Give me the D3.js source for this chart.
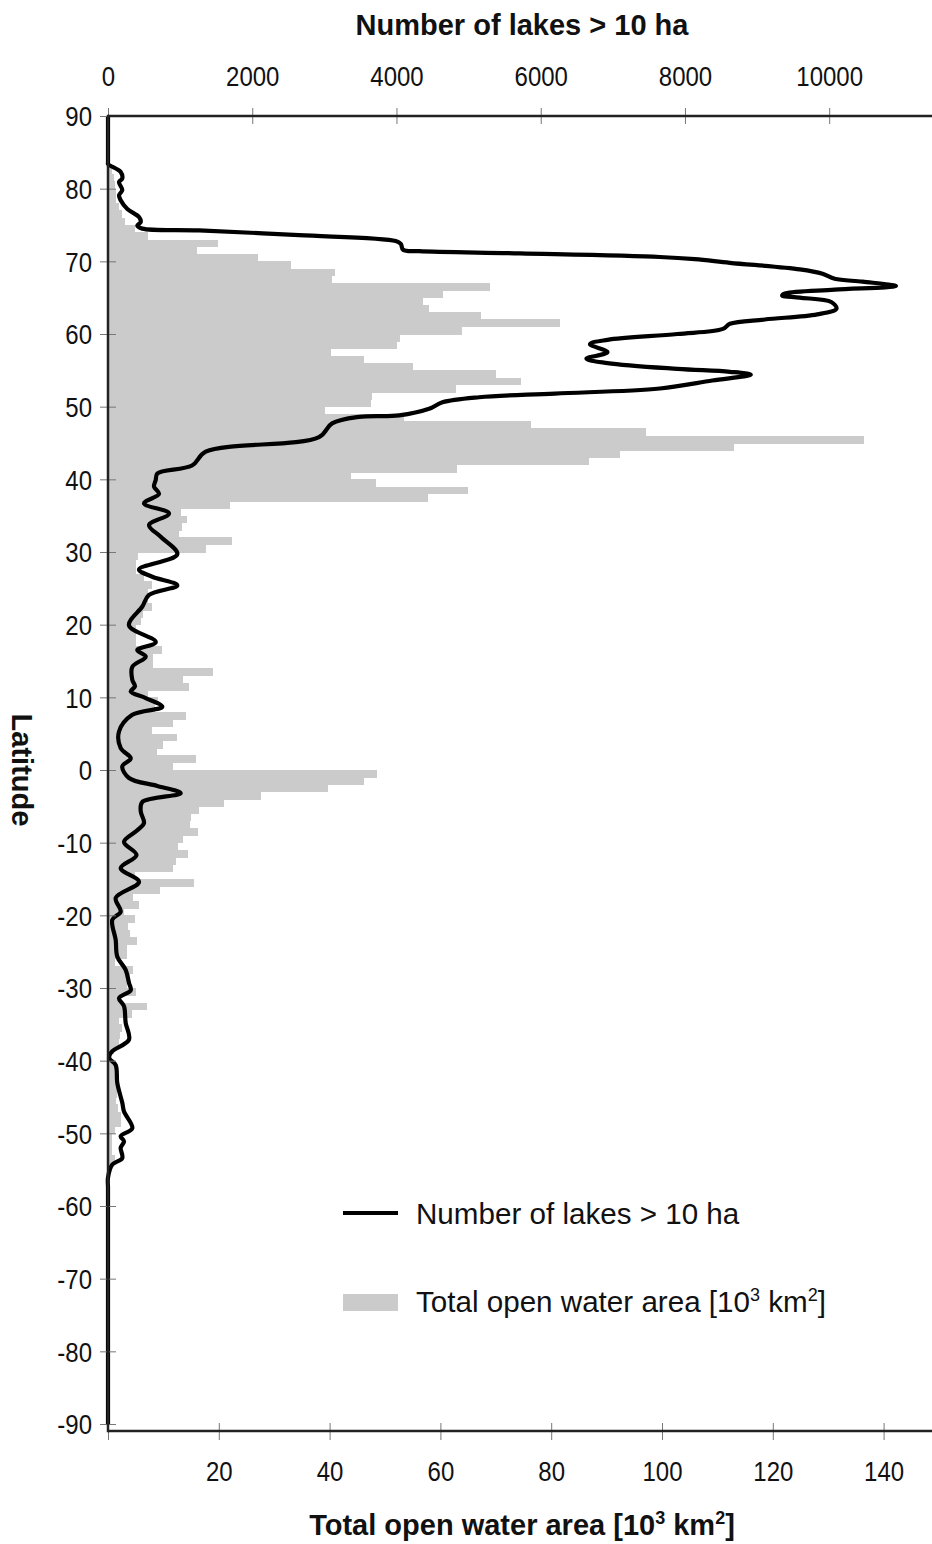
<!DOCTYPE html>
<html>
<head>
<meta charset="utf-8">
<script src="https://cdn.jsdelivr.net/npm/d3@7/dist/d3.min.js"></script>
<style>
  html, body { margin: 0; padding: 0; background: #fff; }
  svg { display: block; }
</style>
</head>
<body>
<svg id="chart" width="932" height="1544"></svg>
<script>
// ---------- DATA ----------
// Latitude bands (lower bound of 1-degree band)
const bandLat = [
  83,82,81,80,79,78,77,76,75,74,73,72,71,70,69,68,67,66,65,64,63,62,61,60,59,58,57,56,55,54,53,52,51,50,
  49,48,47,46,45,44,43,42,41,40,39,38,37,36,35,34,33,32,31,30,29,28,27,26,25,24,23,22,21,20,
  19,18,17,16,15,14,13,12,11,10,9,8,7,6,5,4,3,2,1,0,
  -1,-2,-3,-4,-5,-6,-7,-8,-9,-10,-11,-12,-13,-14,-15,-16,-17,-18,-19,-20,
  -21,-22,-23,-24,-25,-26,-27,-28,-29,-30,-31,-32,-33,-34,-35,-36,-37,-38,-39,-40,
  -41,-42,-43,-44,-45,-46,-47,-48,-49,-50,-51,-52,-53,-54,-55
];
// Total open water area [10^3 km^2] per band
const bandArea = [
  0.4,0.8,1.0,1.2,1.5,1.5,2.0,2.5,3.0,4.9,7.2,19.8,16.0,27.0,33.0,41.0,40.5,69.0,60.4,56.9,58.0,67.3,81.5,63.9,52.7,52.2,40.2,46.2,55.1,70.0,74.5,62.8,47.6,47.4,
  39.2,53.4,76.3,97.1,136.5,113.0,92.5,86.9,63.0,43.9,48.3,65.0,57.8,22.0,13.2,14.2,13.3,12.8,22.3,17.6,5.5,5.0,5.0,6.5,8.0,7.2,7.2,7.9,6.4,6.0,
  5.0,5.0,5.0,9.7,8.2,8.2,18.9,13.5,14.7,7.2,9.1,8.5,14.1,11.8,8.0,12.5,10.0,8.9,15.8,11.8,
  48.5,46.2,39.7,27.6,21.0,16.5,14.9,14.8,16.3,13.6,12.7,14.5,12.3,11.7,4.9,15.6,9.3,4.5,5.6,2.8,
  4.9,3.7,4.0,5.2,3.5,3.4,1.3,4.5,4.0,3.4,5.0,1.9,7.0,4.3,1.9,2.6,2.2,1.9,1.0,0.8,
  1.5,1.5,1.5,1.6,1.6,1.5,1.8,2.4,2.4,1.3,0.7,0.7,0.7,1.3,0.5
];
// Number of lakes > 10 ha (profile by latitude)
const lineLat = [
  90,88,86,84.5,83.6,83.4,82.3,81.4,80.9,79.8,79.1,78.4,77.2,76.1,75.4,74.9,74.5,74.25,73.6,72.8,72.4,71.6,71.4,71.1,70.6,70.3,69.8,68.9,68.3,67.6,67.2,66.6,
  66.1,65.6,65.3,65.0,64.4,63.5,62.7,62.0,61.4,60.7,60.0,59.2,58.6,57.5,56.6,56.0,55.2,54.8,54.4,53.6,52.5,51.8,51.3,50.6,49.7,48.8,48.6,47.7,45.8,
  43.8,41.9,40.8,39.9,39.0,38.0,36.7,35.3,33.7,32.1,29.7,27.6,26.6,25.4,24.1,22.5,19.9,17.6,16.5,15.6,14.2,12.4,11.5,10.8,9.9,8.7,7.6,5.3,3.0,1.6,0.5,
  -1.1,-2.2,-3.2,-4.4,-5.7,-7.3,-8.3,-9.9,-11.7,-13.5,-15.4,-17.6,-19.5,-20.6,-23.4,-25.7,-27.5,-29.3,-30.3,-31.4,-32.5,-34.8,-37.1,-38.7,-39.6,
  -40.6,-43.1,-45.8,-47.0,-49.3,-50.4,-51.1,-52.0,-53.4,-54.3,-56.1,-57.5,-60,-65,-70,-75,-80,-85,-90
];
const lineLakes = [
  0,0,0,0,0,0,176,198,153,198,153,176,268,430,454,406,476,1262,2649,3990,4060,4092,4313,5713,7652,8137,8623,9592,9907,10076,10464,10925,
  10076,9398,9348,9592,10028,10101,9834,9107,8623,8526,7895,6925,6683,6925,6634,6925,7895,8623,8913,8380,7652,6197,5146,4637,4452,4036,3481,3107,2926,
  1355,1165,684,662,638,707,499,846,569,731,961,430,614,961,569,476,291,662,406,523,337,337,374,315,523,753,337,153,176,315,198,
  291,684,1008,476,454,499,406,222,395,176,430,107,176,60,107,129,245,291,315,153,222,245,291,60,14,
  107,129,198,222,337,176,222,176,198,60,0,0,0,0,0,0,0,0,0
];
const latTicks = [90,80,70,60,50,40,30,20,10,0,-10,-20,-30,-40,-50,-60,-70,-80,-90];
const lakeTicks = [0,2000,4000,6000,8000,10000];
const areaTicks = [0,20,40,60,80,100,120,140];

// ---------- LAYOUT ----------
const font = "'Liberation Sans', Arial, sans-serif";
const X0 = 108, X1 = 932;
const yTop = 116, yBot = 1424, axisBottomY = 1431;
const tickFont = 28, tickScale = 0.857;

const svg = d3.select("#chart");

const y = d3.scaleLinear().domain([-90, 90]).range([yBot, yTop]);
const xArea = d3.scaleLinear().domain([0, (X1 - X0) / 5.54]).range([X0, X1]);
const xLakes = d3.scaleLinear().domain([0, (X1 - X0) / 0.07212]).range([X0, X1]);

// Bars
const bars = bandLat.map((l, i) => ({ lat: l, v: bandArea[i] }));
svg.append("g").attr("shape-rendering", "crispEdges")
  .selectAll("rect").data(bars).enter().append("rect")
  .attr("x", xArea(0))
  .attr("y", d => y(d.lat + 1))
  .attr("width", d => xArea(d.v) - xArea(0))
  .attr("height", d => y(d.lat) - y(d.lat + 1) + 0.5)
  .attr("fill", "#cbcbcb");

// Line
const pts = lineLat.map((l, i) => [xLakes(lineLakes[i]), y(l)]);
svg.append("path")
  .attr("d", d3.line().curve(d3.curveCatmullRom.alpha(0.5))(pts))
  .attr("fill", "none")
  .attr("stroke", "#000")
  .attr("stroke-width", 4.2)
  .attr("stroke-linejoin", "round");

// Left axis
const gL = svg.append("g").attr("transform", `translate(${X0},0)`)
  .call(d3.axisLeft(y).tickValues(latTicks).tickSize(8).tickFormat(d => String(d)));
gL.select(".domain").remove();
gL.selectAll(".tick line").attr("x1", 8).attr("x2", -8).attr("stroke", "#777").attr("stroke-width", 1);
gL.selectAll(".tick text").attr("font-family", font).attr("font-size", tickFont).attr("fill", "#111")
  .attr("x", -16 / tickScale).attr("dy", "0.35em").attr("transform", `scale(${tickScale},1)`);

// Top axis
const gT = svg.append("g").attr("transform", `translate(0,${yTop})`)
  .call(d3.axisTop(xLakes).tickValues(lakeTicks).tickSize(8).tickFormat(d => String(d)));
gT.select(".domain").remove();
gT.selectAll(".tick line").attr("y1", 8).attr("y2", -8).attr("stroke", "#777").attr("stroke-width", 1);
gT.selectAll(".tick text").attr("font-family", font).attr("font-size", tickFont).attr("fill", "#111")
  .attr("y", -30).attr("dy", 0).attr("transform", `scale(${tickScale},1)`);

// Bottom axis
const gB = svg.append("g").attr("transform", `translate(0,${axisBottomY})`)
  .call(d3.axisBottom(xArea).tickValues(areaTicks).tickSize(8).tickFormat(d => d === 0 ? "" : String(d)));
gB.select(".domain").remove();
gB.selectAll(".tick line").attr("y1", -8).attr("y2", 9).attr("stroke", "#777").attr("stroke-width", 1);
gB.selectAll(".tick text").attr("font-family", font).attr("font-size", tickFont).attr("fill", "#111")
  .attr("y", 50).attr("dy", 0).attr("transform", `scale(${tickScale},1)`);

// Frame lines
svg.append("line").attr("x1", X0).attr("x2", X1).attr("y1", yTop).attr("y2", yTop)
  .attr("stroke", "#222").attr("stroke-width", 2.5);
svg.append("line").attr("x1", X0).attr("x2", X1).attr("y1", axisBottomY).attr("y2", axisBottomY)
  .attr("stroke", "#222").attr("stroke-width", 2.5);
svg.append("line").attr("x1", X0).attr("x2", X0).attr("y1", yTop - 1.2).attr("y2", axisBottomY + 1.2)
  .attr("stroke", "#222").attr("stroke-width", 2.5);

// Titles
svg.append("text").attr("x", 522).attr("y", 35).attr("text-anchor", "middle")
  .attr("font-family", font).attr("font-weight", "bold").attr("font-size", 29).attr("fill", "#111")
  .text("Number of lakes > 10 ha");

const bt = svg.append("text").attr("x", 522).attr("y", 1535).attr("text-anchor", "middle")
  .attr("font-family", font).attr("font-weight", "bold").attr("font-size", 29).attr("fill", "#111");
bt.append("tspan").text("Total open water area [10");
bt.append("tspan").attr("dy", -11).attr("font-size", 18).text("3");
bt.append("tspan").attr("dy", 11).text(" km");
bt.append("tspan").attr("dy", -11).attr("font-size", 18).text("2");
bt.append("tspan").attr("dy", 11).text("]");

svg.append("text").attr("transform", "translate(12,770) rotate(90)").attr("text-anchor", "middle")
  .attr("font-family", font).attr("font-weight", "bold").attr("font-size", 29).attr("fill", "#111")
  .text("Latitude");

// Legend
svg.append("line").attr("x1", 343).attr("x2", 398).attr("y1", 1213).attr("y2", 1213)
  .attr("stroke", "#000").attr("stroke-width", 4);
svg.append("text").attr("x", 416).attr("y", 1224)
  .attr("font-family", font).attr("font-size", 29.6).attr("fill", "#111")
  .text("Number of lakes > 10 ha");
svg.append("rect").attr("x", 343).attr("y", 1294).attr("width", 55).attr("height", 17).attr("fill", "#cbcbcb");
const lt = svg.append("text").attr("x", 416).attr("y", 1312)
  .attr("font-family", font).attr("font-size", 29.6).attr("fill", "#111");
lt.append("tspan").text("Total open water area [10");
lt.append("tspan").attr("dy", -11).attr("font-size", 18).text("3");
lt.append("tspan").attr("dy", 11).text(" km");
lt.append("tspan").attr("dy", -11).attr("font-size", 18).text("2");
lt.append("tspan").attr("dy", 11).text("]");
</script>
</body>
</html>
